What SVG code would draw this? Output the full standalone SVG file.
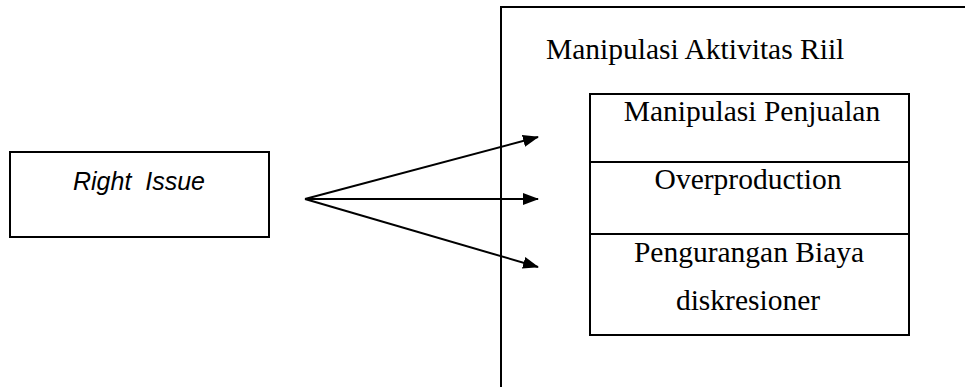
<svg xmlns="http://www.w3.org/2000/svg" width="965" height="387" viewBox="0 0 965 387">
<style>
.box{fill:#fff;stroke:#000;stroke-width:2}
.line{fill:none;stroke:#000;stroke-width:2}
.serif{font-family:"Liberation Serif","Times New Roman",serif;font-size:29.5px;fill:#000;text-anchor:middle}
.sans{font-family:"Liberation Sans",Arial,sans-serif;font-size:25px;font-style:italic;fill:#000;text-anchor:middle;white-space:pre}
</style>
<defs>
<marker id="arr" markerWidth="16" markerHeight="12" refX="15" refY="6" orient="auto" markerUnits="userSpaceOnUse">
<path d="M0,0 L16,6 L0,12 Z" fill="#000"/>
</marker>
</defs>
<rect width="965" height="387" fill="#fff"/>
<g id="outer">
<rect class="box" x="501" y="7" width="500" height="420"/>
<text class="serif" x="546" y="59" style="text-anchor:start">Manipulasi Aktivitas Riil</text>
</g>
<g id="right-issue">
<rect class="box" x="10" y="152" width="259" height="85"/>
<text class="sans" x="139" y="190">Right  Issue</text>
</g>
<g id="inner">
<rect class="box" x="590" y="94" width="319" height="241"/>
<line class="line" x1="590" y1="162" x2="909" y2="162"/>
<line class="line" x1="590" y1="234" x2="909" y2="234"/>
</g>
<g id="manipulasi-penjualan">
<text class="serif" x="752" y="121">Manipulasi Penjualan</text>
</g>
<g id="overproduction">
<text class="serif" x="748" y="189">Overproduction</text>
</g>
<g id="pengurangan-biaya">
<text class="serif" x="749" y="262">Pengurangan Biaya</text>
<text class="serif" x="748" y="310">diskresioner</text>
</g>
<g id="connectors">
<line class="line" x1="305" y1="199" x2="538" y2="137" marker-end="url(#arr)"/>
<line class="line" x1="305" y1="199" x2="538" y2="199" marker-end="url(#arr)"/>
<line class="line" x1="305" y1="199" x2="538" y2="267" marker-end="url(#arr)"/>
</g>
</svg>
